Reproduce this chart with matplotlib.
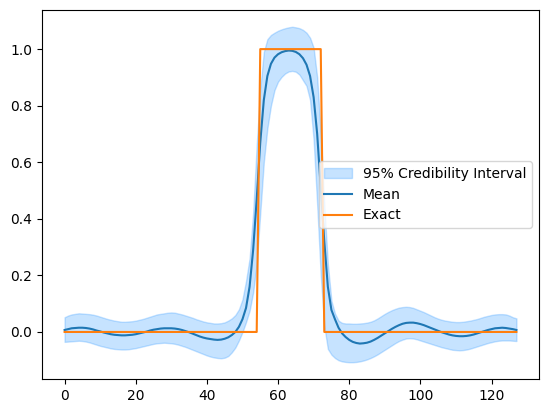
import numpy as np
import matplotlib
matplotlib.use("Agg")
import matplotlib.pyplot as plt

# posterior mean, x = 0..127
mean = [0.007, 0.010, 0.013, 0.014, 0.015, 0.015, 0.014, 0.012, 0.009, 0.005,
        0.002, -0.002, -0.005, -0.008, -0.010, -0.011, -0.012, -0.012, -0.011, -0.010,
        -0.008, -0.005, -0.002, 0.001, 0.005, 0.008, 0.010, 0.012, 0.013, 0.013,
        0.013, 0.012, 0.010, 0.007, 0.003, -0.001, -0.006, -0.011, -0.016, -0.020,
        -0.023, -0.025, -0.027, -0.028, -0.027, -0.024, -0.019, -0.011, 0.000, 0.018,
        0.045, 0.085, 0.16, 0.29, 0.47, 0.67, 0.82, 0.905, 0.948, 0.970,
        0.982, 0.989, 0.993, 0.995, 0.994, 0.990, 0.982, 0.968, 0.945, 0.905,
        0.83, 0.70, 0.51, 0.32, 0.16, 0.078, 0.045, 0.015, -0.005, -0.018,
        -0.028, -0.035, -0.039, -0.041, -0.040, -0.038, -0.034, -0.028, -0.021, -0.013,
        -0.005, 0.003, 0.011, 0.018, 0.024, 0.029, 0.032, 0.033, 0.033, 0.031,
        0.028, 0.024, 0.019, 0.014, 0.009, 0.004, -0.001, -0.005, -0.009, -0.012,
        -0.014, -0.015, -0.015, -0.014, -0.012, -0.009, -0.005, -0.001, 0.003, 0.007,
        0.010, 0.013, 0.014, 0.015, 0.014, 0.012, 0.010, 0.007]

upper = [0.052, 0.058, 0.062, 0.064, 0.066, 0.065, 0.064, 0.063, 0.061, 0.058,
         0.054, 0.050, 0.046, 0.043, 0.040, 0.038, 0.036, 0.036, 0.037, 0.038,
         0.040, 0.043, 0.046, 0.050, 0.054, 0.058, 0.062, 0.064, 0.066, 0.068,
         0.069, 0.068, 0.065, 0.062, 0.058, 0.054, 0.050, 0.045, 0.041, 0.037,
         0.034, 0.032, 0.030, 0.030, 0.031, 0.034, 0.040, 0.048, 0.060, 0.080,
         0.115, 0.18, 0.26, 0.42, 0.66, 0.86, 0.99, 1.035, 1.05, 1.058,
         1.065, 1.070, 1.074, 1.077, 1.079, 1.077, 1.074, 1.068, 1.058, 1.040,
         1.005, 0.90, 0.70, 0.45, 0.24, 0.11, 0.065, 0.040, 0.032, 0.030,
         0.030, 0.029, 0.029, 0.030, 0.031, 0.033, 0.036, 0.041, 0.048, 0.056,
         0.064, 0.071, 0.077, 0.082, 0.086, 0.088, 0.089, 0.088, 0.085, 0.080,
         0.075, 0.070, 0.064, 0.058, 0.052, 0.047, 0.043, 0.040, 0.038, 0.036,
         0.035, 0.035, 0.036, 0.038, 0.040, 0.043, 0.046, 0.050, 0.054, 0.057,
         0.060, 0.062, 0.063, 0.063, 0.062, 0.058, 0.052, 0.048]

lower = [-0.035, -0.034, -0.033, -0.032, -0.031, -0.032, -0.034, -0.037, -0.041, -0.045,
         -0.049, -0.052, -0.055, -0.058, -0.060, -0.061, -0.062, -0.062, -0.061, -0.059,
         -0.057, -0.054, -0.051, -0.048, -0.045, -0.042, -0.040, -0.039, -0.038, -0.039,
         -0.040, -0.042, -0.045, -0.049, -0.053, -0.058, -0.063, -0.068, -0.073, -0.078,
         -0.083, -0.087, -0.090, -0.092, -0.093, -0.091, -0.085, -0.072, -0.055, -0.030,
         0.000, 0.035, 0.075, 0.14, 0.24, 0.42, 0.60, 0.72, 0.80, 0.855,
         0.885, 0.902, 0.914, 0.921, 0.923, 0.920, 0.910, 0.890, 0.870, 0.820,
         0.68, 0.45, 0.20, 0.02, -0.06, -0.08, -0.092, -0.100, -0.104, -0.106,
         -0.107, -0.107, -0.106, -0.104, -0.101, -0.097, -0.092, -0.086, -0.079, -0.071,
         -0.063, -0.055, -0.047, -0.039, -0.032, -0.027, -0.023, -0.022, -0.023, -0.026,
         -0.030, -0.034, -0.038, -0.042, -0.046, -0.050, -0.054, -0.057, -0.060, -0.063,
         -0.064, -0.065, -0.064, -0.062, -0.059, -0.055, -0.051, -0.047, -0.043, -0.039,
         -0.036, -0.033, -0.031, -0.030, -0.030, -0.030, -0.031, -0.032]

# exact solution: box from 55 to 72
exact = [0] * 55 + [1] * 18 + [0] * 55

x = np.arange(len(mean))

fig = plt.figure(figsize=(5.47, 4.13), dpi=100)
ax = fig.add_axes([42 / 547, 1 - 379 / 413, 497 / 547, 369 / 413])

ax.fill_between(x, lower, upper, color='dodgerblue', alpha=0.25,
                label='95% Credibility Interval')
ax.plot(x, mean, label='Mean')
ax.plot(x, exact, label='Exact')
ax.legend(loc='center right')

fig.savefig('out.png', dpi=100)
